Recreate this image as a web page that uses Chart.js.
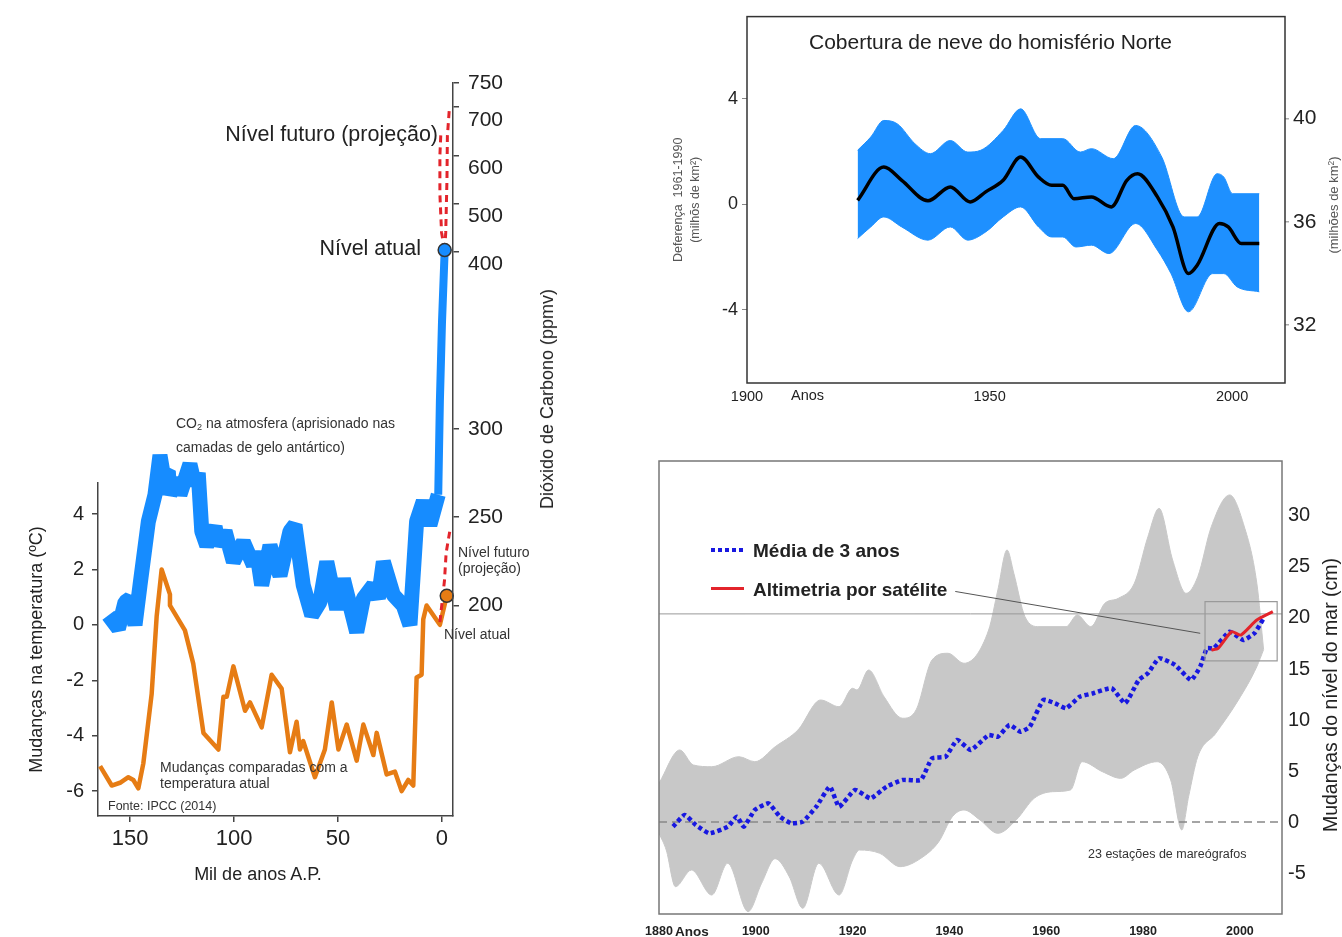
<!DOCTYPE html>
<html lang="pt">
<head>
<meta charset="utf-8">
<title>Mudanças climáticas</title>
<script src="https://cdn.jsdelivr.net/npm/chart.js@4.4.1/dist/chart.umd.min.js"></script>
<style>
  html, body { margin: 0; padding: 0; background: #fff; }
  body {
    position: relative;
    width: 1342px;
    height: 937px;
    overflow: hidden;
    font-family: 'Liberation Sans', Arial, sans-serif;
    color: #222;
  }
  canvas { position: absolute; }
  .note { position: absolute; white-space: nowrap; line-height: 1; }
  .note sub { font-size: 0.65em; vertical-align: -0.25em; }
  .note sup { font-size: 0.65em; vertical-align: 0.45em; }
  .swatch { position: absolute; }
</style>
</head>
<body>
<canvas id="chart-temp" width="480" height="497" style="left:0px;top:440px"></canvas>
<canvas id="chart-co2" width="620" height="800" style="left:0px;top:60px"></canvas>
<canvas id="chart-snow" width="702" height="420" style="left:640px;top:0px"></canvas>
<canvas id="chart-sea" width="722" height="497" style="left:620px;top:440px"></canvas>

<script>
// ==========================================================================
// Data
// ==========================================================================

// Left panel: [mil anos A.P., value]
const tempRecord = [
  [164.4, -5.1], [158.8, -5.8], [154.8, -5.7], [150.8, -5.5], [148.4, -5.6], [146, -5.9],
  [143.6, -5.0], [139.6, -2.5], [137.2, 0.3], [134.8, 2.0], [130.8, 1.1], [130.8, 0.7],
  [123.6, -0.2], [119.6, -1.4], [114.7, -3.9], [107.5, -4.5], [105.1, -2.6], [103.5, -2.6],
  [100.3, -1.5], [94.7, -3.1], [92.3, -2.8], [86.7, -3.7], [81.9, -1.8], [77.1, -2.3],
  [73.1, -4.6], [69.9, -3.5], [68.3, -4.5], [66.7, -4.2], [61.1, -5.5], [56.3, -4.5],
  [53.0, -2.8], [49.8, -4.5], [45.8, -3.6], [41.0, -4.9], [37.8, -3.6], [33.0, -4.7],
  [31.4, -3.9], [26.6, -5.4], [22.6, -5.3], [19.4, -6.0], [16.2, -5.6], [13.8, -5.8],
  [12.2, -1.9], [9.8, -1.8], [9.0, 0.2], [7.4, 0.7], [1.0, 0.0], [-2.3, 1.05]
];
const tempProjection = [[1.0, 0.1], [-1.2, 1.6], [-2.0, 2.6], [-3.8, 3.4]];
const tempNow = [[-2.3, 1.05]];

const co2IceCore = [
  [160.4, 194.5], [155.6, 187], [152.4, 202], [150, 204], [147.6, 189], [145.2, 211.5],
  [141.2, 247.5], [138, 262.7], [135.6, 285], [134, 274], [131.6, 276], [130.8, 262.7],
  [127.6, 272], [126, 262.7], [121.2, 280], [118.8, 268], [117.2, 275], [115.5, 242],
  [113.1, 234], [109.1, 244.7], [107.5, 234], [104.3, 242], [100.3, 224.8], [95.5, 236],
  [90.7, 223], [89.1, 230.5], [86.7, 211.5], [82.7, 234], [80.3, 224.8], [77.9, 217],
  [73.1, 242], [70.7, 245.6], [66.7, 211.5], [62.6, 194.5], [58.7, 202], [55.4, 224.8],
  [50.6, 198], [47.4, 215], [41.0, 185], [37.8, 204], [33.0, 211.5], [30.6, 204],
  [28.2, 224.8], [23.4, 206], [18.6, 200], [15.4, 189], [12.2, 247.6], [9.0, 259],
  [5.8, 245.6], [1.8, 262.7]
];
const co2Modern = [[1.8, 262.7], [1.0, 316], [0.0, 360], [-1.3, 404]];
const co2ProjectionA = [[-1.3, 404], [0.2, 440], [1.0, 520], [1.0, 600], [0.5, 650]];
const co2ProjectionB = [[-1.3, 404], [-1.8, 440], [-2.4, 550], [-2.6, 640], [-3.6, 700]];
const co2Now = [[-1.3, 404]];

const kaTicks = [150, 100, 50, 0];
const tempTicks = [-6, -4, -2, 0, 2, 4];
const co2Ticks = [200, 250, 300, 400, 500, 600, 700, 750];

// Top right: snow cover, [ano, diferença]
const snowMean = [
  [1922.8, 0.15], [1928.2, 1.41], [1931.9, 0.91], [1937.3, 0.13], [1941.9, 0.66],
  [1946, 0.09], [1949.2, 0.47], [1952.8, 0.91], [1956.4, 1.79], [1960.1, 1.03],
  [1962.8, 0.72], [1965.1, 0.72], [1967.4, 0.21], [1971, 0.28], [1975.1, -0.1],
  [1978.3, 0.91], [1980.5, 1.16], [1984.6, 0.28], [1987.8, -0.86], [1991, -2.63],
  [1992.8, -2.31], [1997.4, -0.73], [1999.2, -0.86], [2001.9, -1.49], [2005.6, -1.49]
];
const snowUpper = [
  [1922.8, 2.05], [1925.5, 2.55], [1928.2, 3.18], [1931, 3.05], [1934.6, 2.3],
  [1937.8, 1.92], [1941.9, 2.42], [1945.5, 1.98], [1948.2, 2.05], [1952.8, 2.8],
  [1956.4, 3.62], [1960.5, 2.49], [1965.1, 2.49], [1968.7, 1.98], [1971, 2.11],
  [1975.5, 1.73], [1980.1, 2.99], [1985.5, 1.79], [1990.1, -0.48], [1992.8, -0.48],
  [1996.9, 1.16], [1998.3, 1.03], [2000.1, 0.4], [2005.6, 0.4]
];
const snowLower = [
  [1922.8, -1.3], [1925.5, -0.86], [1928.2, -0.48], [1931.9, -0.86], [1937.3, -1.36],
  [1941.9, -0.86], [1945.5, -1.36], [1949.2, -1.05], [1952.8, -0.48], [1956.4, -0.1],
  [1960.1, -0.86], [1962.8, -1.24], [1965.1, -1.24], [1967.8, -1.62], [1971, -1.55],
  [1974.6, -1.87], [1980.1, -0.73], [1984.6, -1.74], [1987.4, -2.63], [1991, -4.08],
  [1996, -2.63], [1998.3, -2.63], [2001, -3.13], [2005.6, -3.32]
];
const snowYearTicks = [1900, 1950, 2000];
const snowDiffTicks = [-4, 0, 4];
const snowAreaTicks = [32, 36, 40];

// Bottom right: sea level, [ano, cm]
const seaMean3yr = [
  [1882.9, -0.46], [1885.3, 0.69], [1887.6, -0.29], [1890.4, -1.11], [1894.2, -0.46],
  [1896.1, 0.52], [1897.5, -0.46], [1899.8, 1.18], [1902.6, 1.83], [1905, 0.52],
  [1907.3, -0.13], [1909.7, 0.03], [1912.5, 1.5], [1915.3, 3.46], [1917.2, 1.5],
  [1920.5, 3.14], [1923.7, 2.32], [1927, 3.46], [1930.3, 4.12], [1934.1, 4.12],
  [1936.4, 6.24], [1939.2, 6.4], [1941.6, 8.04], [1944.4, 7.06], [1948.1, 8.53],
  [1950, 8.36], [1952.4, 9.51], [1954.7, 8.85], [1956.6, 9.34], [1959.4, 11.96],
  [1961.8, 11.64], [1964.1, 11.15], [1966.9, 12.28], [1969.7, 12.62], [1973.5, 13.11],
  [1976.3, 11.64], [1979.1, 13.92], [1981, 14.58], [1983.3, 16.05], [1986.6, 15.4],
  [1989.9, 13.92], [1991.8, 15.23], [1993.2, 17.03], [1994.6, 17.03], [1997.9, 18.66],
  [2000.7, 17.84], [2003, 18.5], [2004.9, 19.97]
];
const seaSatellite = [
  [1994.1, 16.86], [1995.5, 17.03], [1998.3, 18.66], [2000.2, 18.33], [2003.5, 19.8], [2006.8, 20.62]
];
const seaUpper = [
  [1880, 3.8], [1884.3, 7.06], [1887.1, 5.59], [1890.9, 5.42], [1896.5, 6.4], [1899.8, 5.91],
  [1904, 7.38], [1908.7, 9.02], [1913.4, 11.96], [1917.2, 11.3], [1920, 13.11], [1920.9, 12.94],
  [1923.3, 14.9], [1926.5, 12.28], [1930.3, 10.17], [1933.1, 10.98], [1936.4, 15.88],
  [1939.7, 16.54], [1943, 15.56], [1948.1, 18.82], [1950, 22.75], [1951.9, 26.67],
  [1953.3, 24.38], [1955.6, 20.13], [1958.5, 19.15], [1964.1, 19.15], [1966.4, 20.29],
  [1969.2, 19.15], [1972.1, 21.44], [1974.9, 21.93], [1978.2, 23.4], [1981, 27.97],
  [1983.3, 30.75], [1986.1, 25.69], [1988.9, 22.42], [1991.3, 24.05], [1994.1, 28.95],
  [1997.9, 32.06], [2000.7, 29.28], [2003.5, 23.4], [2004.9, 16.9]
];
const seaLower = [
  [1880, -1.11], [1881.5, -2.75], [1883.4, -6.34], [1886.7, -4.71], [1890.9, -7.16],
  [1894.2, -4.05], [1898.4, -8.79], [1901.2, -6.01], [1904, -3.6], [1906.9, -5.36],
  [1909.7, -8.46], [1913, -4.05], [1917.2, -7.16], [1920, -3.73], [1921.4, -2.75],
  [1925.6, -3.07], [1929.8, -4.38], [1934.1, -3.56], [1937.8, -1.93], [1940.6, 0.52],
  [1943, 1.18], [1946.3, 0.2], [1950, -1.11], [1953.8, 0.2], [1957.5, 2.32],
  [1961.3, 2.97], [1965, 3.14], [1967.4, 5.91], [1971.6, 4.93], [1975.4, 4.28],
  [1978.2, 5.1], [1982.9, 5.91], [1985.7, 4.12], [1988, -0.78], [1989.4, 2.48],
  [1991.3, 6.4], [1995, 8.68], [1999.7, 11.96], [2003.5, 15.23], [2004.9, 16.9]
];
const seaRefLevel = 20.4;
const seaInsetBox = [[1992.8, 15.8], [2007.7, 15.8], [2007.7, 21.6], [1992.8, 21.6], [1992.8, 15.8]];
const seaInsetPointer = [[1941.2, 22.6], [1991.8, 18.5]];
const seaYearTicks = [1880, 1900, 1920, 1940, 1960, 1980, 2000];
const seaLevelTicks = [-5, 0, 5, 10, 15, 20, 25, 30];

// ==========================================================================
// Shared settings / helpers
// ==========================================================================
const ORANGE = '#e67c14';
const CO2_BLUE = '#168cff';
const RED = '#e3242b';
const SNOW_BLUE = '#1e90ff';
const SEA_GREY = '#c8c8c8';
const SEA_BLUE = '#1818e0';

Chart.defaults.font.family = "'Liberation Sans', Arial, sans-serif";
Chart.defaults.color = '#222';
Chart.defaults.animation = false;
Chart.defaults.events = [];
Chart.defaults.plugins.legend.display = false;
Chart.defaults.plugins.tooltip.enabled = false;
Chart.defaults.elements.point.radius = 0;

const toXY = pts => pts.map(([x, y]) => ({ x, y }));
const fixedWidth = w => axis => { axis.width = w; };
const fixedHeight = h => axis => { axis.height = h; };
const setTicks = values => axis => { axis.ticks = values.map(value => ({ value })); };
const plain = v => String(v);

// frame around the plot area (top-right and bottom-right panels)
const framePlugin = {
  id: 'frame',
  afterDraw(chart, args, opts) {
    const { ctx, chartArea: a } = chart;
    ctx.save();
    ctx.strokeStyle = opts.color || '#333';
    ctx.lineWidth = opts.width || 1;
    ctx.strokeRect(a.left, a.top, a.right - a.left, a.bottom - a.top);
    ctx.restore();
  }
};

// CO2 axis changes scale at 400 ppmv (compressed above)
const CO2_BREAK = 400;
const CO2_BREAK_AT = 0.7695;
class BrokenLinearScale extends Chart.LinearScale {
  getPixelForValue(value) {
    if (value === null || value === undefined || isNaN(value)) return NaN;
    const d = value <= CO2_BREAK
      ? CO2_BREAK_AT * (value - this.min) / (CO2_BREAK - this.min)
      : CO2_BREAK_AT + (1 - CO2_BREAK_AT) * (value - CO2_BREAK) / (this.max - CO2_BREAK);
    return this.getPixelForDecimal(d);
  }
  getValueForPixel(pixel) {
    const d = this.getDecimalForPixel(pixel);
    return d <= CO2_BREAK_AT
      ? this.min + (d / CO2_BREAK_AT) * (CO2_BREAK - this.min)
      : CO2_BREAK + ((d - CO2_BREAK_AT) / (1 - CO2_BREAK_AT)) * (this.max - CO2_BREAK);
  }
}
BrokenLinearScale.id = 'brokenLinear';
BrokenLinearScale.defaults = Chart.LinearScale.defaults;
Chart.register(BrokenLinearScale);

const KA_MIN = -5.3, KA_MAX = 165.4;

// ==========================================================================
// Left panel – temperature
// ==========================================================================
new Chart(document.getElementById('chart-temp'), {
  type: 'line',
  data: {
    datasets: [
      {
        data: toXY(tempNow), showLine: false, clip: false,
        pointRadius: 6.5, pointBackgroundColor: ORANGE, pointBorderColor: '#333', pointBorderWidth: 1.5
      },
      { data: toXY(tempProjection), borderColor: RED, borderWidth: 3, borderDash: [7, 5] },
      { data: toXY(tempRecord), borderColor: ORANGE, borderWidth: 4.5, borderJoinStyle: 'round' }
    ]
  },
  options: {
    responsive: false,
    layout: { padding: { left: 20, top: 43, right: 27, bottom: 53 } },
    scales: {
      x: {
        type: 'linear', reverse: true, min: KA_MIN, max: KA_MAX,
        afterFit: fixedHeight(68), afterBuildTicks: setTicks(kaTicks),
        grid: { drawOnChartArea: false, tickLength: 6, color: '#444', lineWidth: 1.5 },
        border: { color: '#444', width: 1.5 },
        ticks: { font: { size: 22 }, padding: 4, callback: plain }
      },
      y: {
        type: 'linear', min: -6.9, max: 5.12,
        afterFit: fixedWidth(78), afterBuildTicks: setTicks(tempTicks),
        grid: { drawOnChartArea: false, tickLength: 6, color: '#444', lineWidth: 1.5 },
        border: { color: '#444', width: 1.5 },
        ticks: { font: { size: 20 }, padding: 8 },
        title: { display: true, text: 'Mudanças na temperatura (ºC)', font: { size: 18 }, padding: { top: 6, bottom: 0 } }
      }
    }
  }
});

// ==========================================================================
// Left panel – CO2
// ==========================================================================
new Chart(document.getElementById('chart-co2'), {
  type: 'line',
  data: {
    datasets: [
      {
        data: toXY(co2Now), showLine: false, clip: false,
        pointRadius: 6.5, pointBackgroundColor: CO2_BLUE, pointBorderColor: '#333', pointBorderWidth: 1.5
      },
      { data: toXY(co2ProjectionA), borderColor: RED, borderWidth: 3, borderDash: [7, 5] },
      { data: toXY(co2ProjectionB), borderColor: RED, borderWidth: 3, borderDash: [7, 5] },
      { data: toXY(co2Modern), borderColor: CO2_BLUE, borderWidth: 8, borderJoinStyle: 'round' },
      { data: toXY(co2IceCore), borderColor: CO2_BLUE, borderWidth: 15, borderJoinStyle: 'bevel' }
    ]
  },
  options: {
    responsive: false,
    layout: { padding: { left: 98, top: 23, right: 107, bottom: 44 } },
    scales: {
      x: { type: 'linear', reverse: true, min: KA_MIN, max: KA_MAX, display: false },
      y: {
        type: 'brokenLinear', position: 'right', min: 81, max: 750,
        afterFit: fixedWidth(60), afterBuildTicks: setTicks(co2Ticks),
        grid: { drawOnChartArea: false, tickLength: 6, color: '#444', lineWidth: 1.5 },
        border: { color: '#444', width: 1.5 },
        // labels on the compressed part sit a little below their tick marks in the original
        ticks: {
          font: { size: 21 }, padding: 9,
          callback: v => (v > CO2_BREAK - 1 && v < 750 ? ['', String(v)] : String(v))
        }
      }
    }
  }
});

// ==========================================================================
// Top right – snow cover
// ==========================================================================
new Chart(document.getElementById('chart-snow'), {
  type: 'line',
  data: {
    datasets: [
      { data: toXY(snowMean), borderColor: '#000', borderWidth: 3.5, cubicInterpolationMode: 'monotone' },
      {
        data: toXY(snowUpper), borderColor: SNOW_BLUE, borderWidth: 1, backgroundColor: SNOW_BLUE,
        fill: '+1', cubicInterpolationMode: 'monotone'
      },
      { data: toXY(snowLower), borderColor: SNOW_BLUE, borderWidth: 1, cubicInterpolationMode: 'monotone' }
    ]
  },
  plugins: [framePlugin],
  options: {
    responsive: false,
    layout: { padding: { left: 0, top: 16, right: 0, bottom: 0 } },
    plugins: { frame: { color: '#333', width: 1.5 } },
    scales: {
      x: {
        type: 'linear', min: 1900, max: 2010.9,
        afterFit: fixedHeight(37), afterBuildTicks: setTicks(snowYearTicks),
        grid: { display: false, drawTicks: false }, border: { display: false },
        ticks: { font: { size: 14.5 }, padding: 5, callback: plain }
      },
      y: {
        type: 'linear', position: 'left', min: -6.78, max: 7.12,
        afterFit: fixedWidth(107), afterBuildTicks: setTicks(snowDiffTicks),
        grid: { drawOnChartArea: false, tickLength: 5, color: '#888' }, border: { display: false },
        ticks: { font: { size: 18 }, padding: 4 },
        title: {
          display: true, text: ['Deferença  1961-1990', '(milhõs de km²)'], color: '#555',
          font: { size: 12.5, lineHeight: 1.36 }, padding: { top: 30, bottom: 0 }
        }
      },
      y2: {
        type: 'linear', position: 'right', min: 29.76, max: 43.94,
        afterFit: fixedWidth(57), afterBuildTicks: setTicks(snowAreaTicks),
        grid: { drawOnChartArea: false, tickLength: 4, color: '#aaa', lineWidth: 1.5 }, border: { display: false },
        ticks: { font: { size: 21 }, padding: 4 }
      }
    }
  }
});

// ==========================================================================
// Bottom right – sea level
// ==========================================================================
const SEA_X_MIN = 1880, SEA_X_MAX = 2008.7;

new Chart(document.getElementById('chart-sea'), {
  type: 'line',
  data: {
    datasets: [
      { data: toXY(seaInsetPointer), borderColor: '#555', borderWidth: 1 },
      { data: toXY(seaInsetBox), borderColor: '#9a9a9a', borderWidth: 1.2 },
      { data: toXY(seaSatellite), borderColor: RED, borderWidth: 3, tension: 0.2 },
      { data: toXY(seaMean3yr), borderColor: SEA_BLUE, borderWidth: 4.5, borderDash: [4, 3], tension: 0.15 },
      {
        data: [{ x: SEA_X_MIN, y: seaRefLevel }, { x: SEA_X_MAX, y: seaRefLevel }],
        borderColor: '#999', borderWidth: 1
      },
      {
        data: [{ x: SEA_X_MIN, y: 0 }, { x: SEA_X_MAX, y: 0 }],
        borderColor: '#888', borderWidth: 1.5, borderDash: [8, 5]
      },
      {
        data: toXY(seaUpper), borderColor: SEA_GREY, borderWidth: 1, backgroundColor: SEA_GREY,
        fill: '+1', cubicInterpolationMode: 'monotone'
      },
      { data: toXY(seaLower), borderColor: SEA_GREY, borderWidth: 1, cubicInterpolationMode: 'monotone' }
    ]
  },
  plugins: [framePlugin],
  options: {
    responsive: false,
    layout: { padding: { left: 39, top: 21, right: 0, bottom: 0 } },
    plugins: { frame: { color: '#777', width: 1.5 } },
    scales: {
      x: {
        type: 'linear', min: SEA_X_MIN, max: SEA_X_MAX,
        afterFit: fixedHeight(23), afterBuildTicks: setTicks(seaYearTicks),
        grid: { display: false, drawTicks: false }, border: { display: false },
        ticks: { font: { size: 12.5, weight: 'bold' }, padding: 10, callback: plain }
      },
      y: {
        type: 'linear', position: 'right', min: -9.02, max: 35.39,
        afterFit: fixedWidth(60), afterBuildTicks: setTicks(seaLevelTicks),
        grid: { display: false, drawTicks: false }, border: { display: false },
        ticks: { font: { size: 20 }, padding: 6 }
      }
    }
  }
});

// ==========================================================================
// Free text annotations and legend
// ==========================================================================
const notes = [
  { html: 'CO<sub>2</sub> na atmosfera (aprisionado nas', x: 176, y: 424, size: 14, color: '#333' },
  { html: 'camadas de gelo antártico)', x: 176, y: 447, size: 14, color: '#333' },
  { html: 'Nível futuro (projeção)', x: 438, y: 135, size: 21.5, anchor: 'end' },
  { html: 'Nível atual', x: 421, y: 249, size: 21.5, anchor: 'end' },
  { html: 'Nível futuro', x: 458, y: 552, size: 14, color: '#333' },
  { html: '(projeção)', x: 458, y: 568, size: 14, color: '#333' },
  { html: 'Nível atual', x: 444, y: 634, size: 14, color: '#333' },
  { html: 'Mudanças comparadas com a', x: 160, y: 767, size: 14, color: '#333' },
  { html: 'temperatura atual', x: 160, y: 783, size: 14, color: '#333' },
  { html: 'Fonte: IPCC (2014)', x: 108, y: 806, size: 12.5, color: '#333' },
  { html: 'Mil de anos A.P.', x: 258, y: 874, size: 18, anchor: 'middle' },
  { html: 'Dióxido de Carbono (ppmv)', x: 547, y: 399, size: 18, rotate: -90 },
  { html: 'Cobertura de neve do homisfério Norte', x: 809, y: 41, size: 21 },
  { html: 'Anos', x: 791, y: 395, size: 14.5 },
  { html: '(milhões de km<sup>2</sup>)', x: 1333, y: 205, size: 13, color: '#555', rotate: -90 },
  { html: 'Média de 3 anos', x: 753, y: 550, size: 19, bold: true },
  { html: 'Altimetria por satélite', x: 753, y: 589, size: 19, bold: true },
  { html: '23 estações de mareógrafos', x: 1088, y: 854, size: 12.5, color: '#333' },
  { html: 'Anos', x: 675, y: 932, size: 13.5, bold: true },
  { html: 'Mudanças do nível do mar (cm)', x: 1331, y: 695, size: 19.5, rotate: -90 }
];

notes.forEach(n => {
  const el = document.createElement('div');
  el.className = 'note';
  el.innerHTML = n.html;
  el.style.left = n.x + 'px';
  el.style.top = n.y + 'px';
  el.style.fontSize = n.size + 'px';
  if (n.bold) el.style.fontWeight = 'bold';
  if (n.color) el.style.color = n.color;
  if (n.rotate) {
    el.style.transform = `translate(-50%, -50%) rotate(${n.rotate}deg)`;
  } else {
    const tx = n.anchor === 'end' ? '-100%' : n.anchor === 'middle' ? '-50%' : '0';
    el.style.transform = `translate(${tx}, -50%)`;
  }
  document.body.appendChild(el);
});

// legend swatches (sea level panel)
const swatches = [
  { left: 711, top: 548, width: 33, height: 4,
    background: `repeating-linear-gradient(to right, ${SEA_BLUE} 0 4px, transparent 4px 7px)` },
  { left: 711, top: 587, width: 33, height: 3, background: RED }
];
swatches.forEach(s => {
  const el = document.createElement('div');
  el.className = 'swatch';
  el.style.left = s.left + 'px';
  el.style.top = s.top + 'px';
  el.style.width = s.width + 'px';
  el.style.height = s.height + 'px';
  el.style.background = s.background;
  document.body.appendChild(el);
});
</script>
</body>
</html>
